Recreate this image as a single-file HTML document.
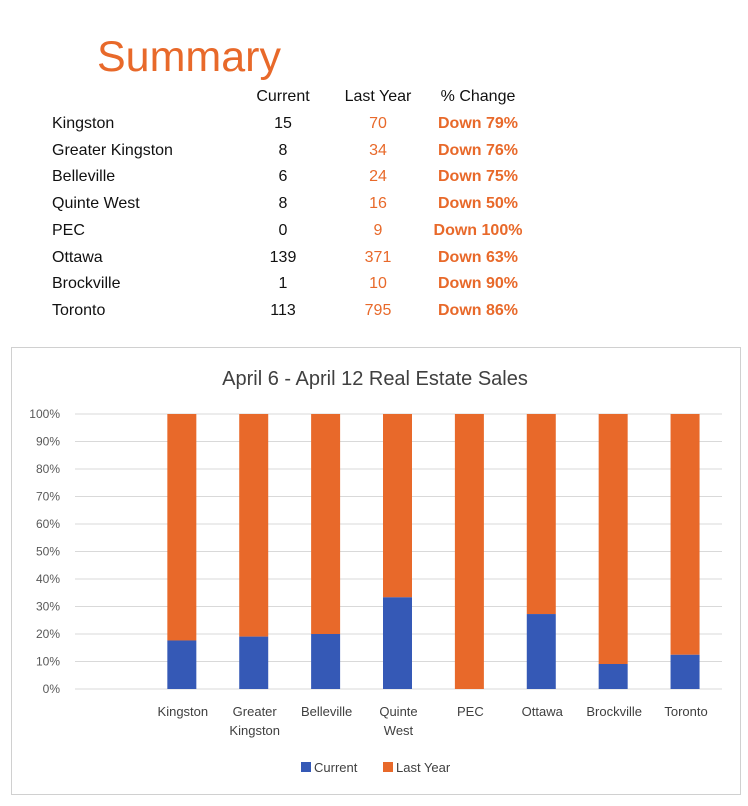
<!DOCTYPE html>
<html><head><meta charset="utf-8"><style>
body{margin:0;width:748px;height:806px;background:#fff;font-family:"Liberation Sans",sans-serif;position:relative;overflow:hidden}
.t{position:absolute;white-space:nowrap}
.row{font-size:16px;color:#111}
.o{color:#E8692A}
.b{font-weight:bold}
</style></head><body>
<div class="t" style="left:97px;top:33px;font-size:43px;color:#E8692A">Summary</div>
<div id="table"></div>
<svg id="chart" width="748" height="806" style="position:absolute;left:0;top:0"></svg>
<script>
const cities=["Kingston","Greater Kingston","Belleville","Quinte West","PEC","Ottawa","Brockville","Toronto"];
const currentVals=[15,8,6,8,0,139,1,113];
const lastYearVals=[70,34,24,16,9,371,10,795];
const changeLabels=["Down 79%","Down 76%","Down 75%","Down 50%","Down 100%","Down 63%","Down 90%","Down 86%"];
const axisLabels=[[""],["Kingston"],["Greater","Kingston"],["Belleville"],["Quinte","West"],["PEC"],["Ottawa"],["Brockville"],["Toronto"]];
const yTicks=[0,10,20,30,40,50,60,70,80,90,100];

const tb=document.getElementById('table');
function txt(parent,s,x,y,cls,name,center){
  const d=document.createElement('div');
  d.className='t '+cls;d.textContent=s;
  d.style.top=y+'px';
  if(center){d.style.left=(x-60)+'px';d.style.width='120px';d.style.textAlign='center';}
  else d.style.left=x+'px';
  
  
  parent.appendChild(d);
}
txt(tb,"Current",283,88,'row','header-current',true);
txt(tb,"Last Year",378,88,'row','header-last-year',true);
txt(tb,"% Change",478,88,'row','header-change',true);
cities.forEach((c,i)=>{
  const y=115+i*26.7;
  txt(tb,c,52,y,'row','city-name',false);
  txt(tb,String(currentVals[i]),283,y,'row','current-value',true);
  txt(tb,String(lastYearVals[i]),378,y,'row o','last-year-value',true);
  txt(tb,changeLabels[i],478,y,'row o b','change-value',true);
});

const NS="http://www.w3.org/2000/svg";
const svg=document.getElementById('chart');
function el(tag,attrs,name){const e=document.createElementNS(NS,tag);for(const k in attrs)e.setAttribute(k,attrs[k]);
  
  
  svg.appendChild(e);return e;}
el('rect',{x:11.5,y:347.5,width:729,height:447,fill:'none',stroke:'#d0d0d0'},'chart-border');
const t=el('text',{x:375,y:385,'text-anchor':'middle','font-size':20,fill:'#404040','font-family':'Liberation Sans'},'chart-title');t.textContent="April 6 - April 12 Real Estate Sales";
const x0=75,x1=722,yTop=414,yBot=689;
const yS=v=>yBot-(v/100)*(yBot-yTop);
const slot=(x1-x0)/axisLabels.length;
const xC=i=>x0+slot*(i+0.5);
yTicks.forEach(v=>{
  el('line',{x1:x0,x2:x1,y1:yS(v),y2:yS(v),stroke:'#d9d9d9','stroke-width':1},'gridline');
  const l=el('text',{x:60,y:yS(v)+4,'text-anchor':'end','font-size':12,fill:'#595959','font-family':'Liberation Sans'},'y-tick-label');l.textContent=v+'%';
});
const bw=29;
cities.forEach((c,i)=>{
  const tot=currentVals[i]+lastYearVals[i];
  const p=tot?currentVals[i]/tot*100:0;
  const cx=xC(i+1)-1;
  el('rect',{x:cx-bw/2,y:yS(100),width:bw,height:yS(p)-yS(100),fill:'#E8692A'},'bar-last-year');
  el('rect',{x:cx-bw/2,y:yS(p),width:bw,height:yS(0)-yS(p),fill:'#3559B6'},'bar-current');
});
axisLabels.forEach((ls,i)=>{
  ls.forEach((s,j)=>{
    const l=el('text',{x:xC(i),y:716+j*19,'text-anchor':'middle','font-size':13,fill:'#404040','font-family':'Liberation Sans'},'x-tick-label');l.textContent=s;
  });
});
el('rect',{x:301,y:762,width:10,height:10,fill:'#3559B6'},'legend-current-swatch');
let lt=el('text',{x:314,y:772,'font-size':13,fill:'#404040','font-family':'Liberation Sans'},'legend-current');lt.textContent="Current";
el('rect',{x:383,y:762,width:10,height:10,fill:'#E8692A'},'legend-last-year-swatch');
lt=el('text',{x:396,y:772,'font-size':13,fill:'#404040','font-family':'Liberation Sans'},'legend-last-year');lt.textContent="Last Year";
</script>
</body></html>
